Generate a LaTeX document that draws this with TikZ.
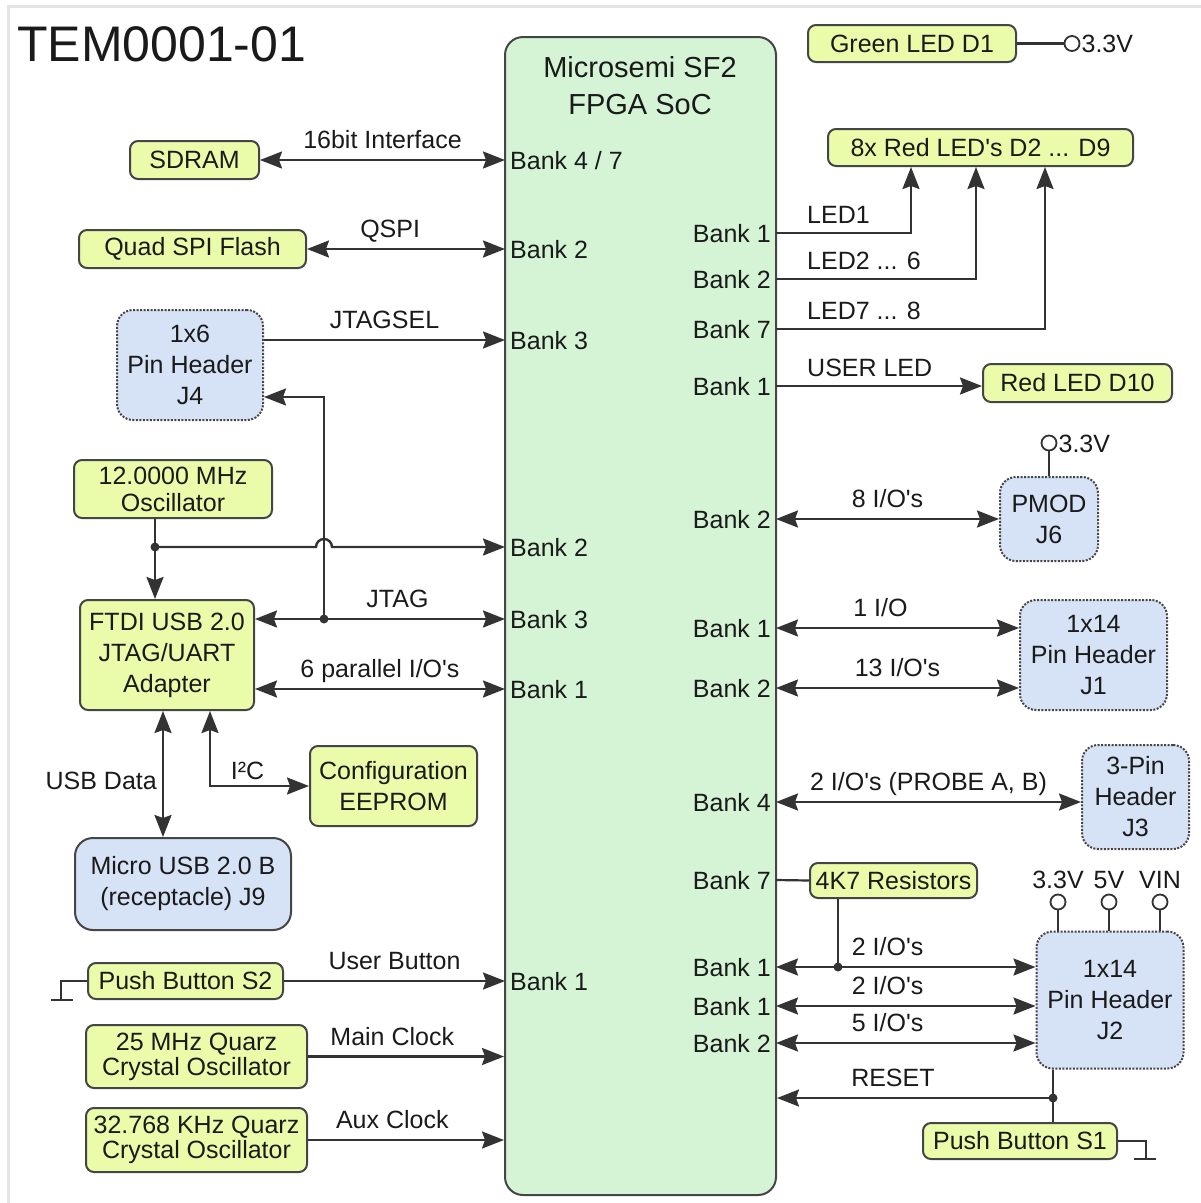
\documentclass[tikz,border=0pt]{standalone}
\usepackage{fontspec}
\setmainfont{Liberation Sans}
\usetikzlibrary{arrows.meta,positioning,calc}
\definecolor{partyellow}{HTML}{EAFBAA}
\definecolor{socgreen}{HTML}{D5F4D5}
\definecolor{headerblue}{HTML}{D6E2F5}
\definecolor{edgegray}{HTML}{454545}
\definecolor{wiregray}{HTML}{333333}
\definecolor{framegray}{HTML}{E4E4E4}
\definecolor{textblack}{HTML}{1A1A1A}
\newcommand{\apos}{\textquotesingle}
\tikzset{
  part/.style={
    rectangle,
    rounded corners=8pt,
    draw=edgegray,
    line width=2pt,
    fill=partyellow,
    align=center,
    inner sep=0pt
  },
  header/.style={
    rectangle,
    rounded corners=16pt,
    draw=edgegray,
    line width=2pt,
    dash pattern=on 2pt off 1.5pt,
    fill=headerblue,
    align=center,
    inner sep=0pt
  },
  socket/.style={
    rectangle,
    rounded corners=18pt,
    draw=edgegray,
    line width=2pt,
    fill=headerblue,
    align=center,
    inner sep=0pt
  },
  soc/.style={
    rectangle,
    rounded corners=18pt,
    draw=edgegray,
    line width=2pt,
    fill=socgreen,
    inner sep=0pt
  },
  lab/.style={inner sep=0pt,text height=18pt,text depth=0pt},
  over/.style={lab,above=10pt},
  bank/.style={lab,inner xsep=5pt},
  dot/.style={circle,fill=wiregray,inner sep=0pt,minimum size=9pt},
  term/.style={circle,draw=wiregray,line width=1.8pt,fill=white,inner sep=0pt,minimum size=15pt},
  wire/.style={line width=2.2pt,draw=wiregray},
  arrow/.style={-{Stealth[length=22pt,width=17pt,inset=3pt]},line width=2.4pt,draw=wiregray},
  biarrow/.style={arrow,{Stealth[length=22pt,width=17pt,inset=3pt]}-{Stealth[length=22pt,width=17pt,inset=3pt]}}
}
\begin{document}
\begin{tikzpicture}[x=1pt,y=-1pt,font=\fontsize{25}{31}\selectfont,text=textblack]
    \useasboundingbox (0,0) rectangle (1201,1203);
    \draw[framegray,line width=3pt] (8,1203) -- (8,6.5) -- (1201,6.5);
    \node[anchor=west,inner sep=0pt,font=\fontsize{50}{50}\selectfont] (title) at (17,44) {TEM0001-01};

    % FPGA and its banks
    \node[soc,minimum width=271pt,minimum height=1158pt] (fpga) at (640.5,616) {};
    \node[anchor=north,inner sep=0pt,align=center,font=\fontsize{29}{37}\selectfont] (soctitle) at (640,56) {Microsemi SF2\\FPGA SoC};

    \node[bank,anchor=west] (bl1) at (505,160) {Bank 4 / 7};
    \node[bank,anchor=west] (bl2) at (505,249) {Bank 2};
    \node[bank,anchor=west] (bl3) at (505,340) {Bank 3};
    \node[bank,anchor=west] (bl4) at (505,547) {Bank 2};
    \node[bank,anchor=west] (bl5) at (505,619) {Bank 3};
    \node[bank,anchor=west] (bl6) at (505,689) {Bank 1};
    \node[bank,anchor=west] (bl7) at (505,981) {Bank 1};

    \node[bank,anchor=east] (br1) at (776,233) {Bank 1};
    \node[bank,anchor=east] (br2) at (776,279) {Bank 2};
    \node[bank,anchor=east] (br3) at (776,329) {Bank 7};
    \node[bank,anchor=east] (br4) at (776,386) {Bank 1};
    \node[bank,anchor=east] (br5) at (776,519) {Bank 2};
    \node[bank,anchor=east] (br6) at (776,628) {Bank 1};
    \node[bank,anchor=east] (br7) at (776,688) {Bank 2};
    \node[bank,anchor=east] (br8) at (776,802) {Bank 4};
    \node[bank,anchor=east] (br9) at (776,880) {Bank 7};
    \node[bank,anchor=east] (br10) at (776,967) {Bank 1};
    \node[bank,anchor=east] (br11) at (776,1006) {Bank 1};
    \node[bank,anchor=east] (br12) at (776,1043) {Bank 2};

    % left side
    \node[part,minimum width=129pt,minimum height=38pt] (sdram) at (194.5,160) {SDRAM};
    \node[part,minimum width=227pt,minimum height=38pt] (qspi) at (192.5,249) {Quad SPI Flash};
    \node[header,minimum width=146pt,minimum height=110pt] (j4) at (190,365) {1x6\\Pin Header\\J4};
    \node[part,minimum width=198pt,minimum height=58pt,font=\fontsize{25}{27}\selectfont] (osc) at (173,489) {12.0000 MHz\\Oscillator};
    \node[part,minimum width=174pt,minimum height=110pt] (ftdi) at (167,655) {FTDI USB 2.0\\JTAG/UART\\Adapter};
    \node[part,minimum width=167pt,minimum height=80pt] (eeprom) at (393.5,786) {Configuration\\EEPROM};
    \node[socket,minimum width=216pt,minimum height=92pt] (usb) at (183,884) {Micro USB 2.0 B\\(receptacle) J9};
    \node[part,minimum width=195pt,minimum height=36pt] (s2) at (185.5,981) {Push Button S2};
    \node[part,minimum width=221pt,minimum height=63pt,font=\fontsize{25}{25}\selectfont] (q25) at (196.5,1056.5) {25 MHz Quarz\\Crystal Oscillator};
    \node[part,minimum width=221pt,minimum height=64pt,font=\fontsize{25}{25}\selectfont] (q32) at (196.5,1140) {32.768 KHz Quarz\\Crystal Oscillator};

    % right side
    \node[part,minimum width=208pt,minimum height=37pt] (d1) at (912,43.5) {Green LED D1};
    \node[part,minimum width=305pt,minimum height=37pt] (leds) at (980.5,147.5) {8x Red LED\apos s D2 ... D9};
    \node[part,minimum width=189pt,minimum height=38pt] (d10) at (1077.5,383) {Red LED D10};
    \node[header,minimum width=98pt,minimum height=84pt] (pmod) at (1049,519) {PMOD\\J6};
    \node[header,minimum width=147pt,minimum height=110pt] (j1) at (1093.5,655) {1x14\\Pin Header\\J1};
    \node[header,minimum width=107pt,minimum height=104pt] (j3) at (1135.5,797) {3-Pin\\Header\\J3};
    \node[part,minimum width=167pt,minimum height=35pt] (res) at (893.5,880.5) {4K7 Resistors};
    \node[header,minimum width=147pt,minimum height=137pt] (j2) at (1110,1000) {1x14\\Pin Header\\J2};
    \node[part,minimum width=194pt,minimum height=36pt] (s1) at (1020,1141) {Push Button S1};

    % supply terminals
    \node[term] (vd1) at (1072,43.5) {};
    \node[lab,anchor=west] (vd1lab) at ([xshift=1pt]vd1.east) {3.3V};
    \node[term] (vpmod) at (1049,443) {};
    \node[lab,anchor=west] (vpmodlab) at ([xshift=1pt]vpmod.east) {3.3V};
    \node[term] (vj2a) at (1058,902) {};
    \node[term] (vj2b) at (1109,902) {};
    \node[term] (vj2c) at (1160,902) {};
    \node[lab,above=5pt of vj2a] (vj2alab) {3.3V};
    \node[lab,above=5pt of vj2b] (vj2blab) {5V};
    \node[lab,above=5pt of vj2c] (vj2clab) {VIN};

    % junctions
    \node[dot] (clktap) at (155,547) {};
    \node[dot] (jtagtap) at (324,619) {};
    \node[dot] (pullup) at (838,967) {};
    \node[dot] (rsttap) at (1053,1098) {};

    % left connections
    \draw[biarrow] (sdram.east) -- (bl1.west) node[over,midway] {16bit Interface};
    \draw[biarrow] (qspi.east) -- (bl2.west) node[over,pos=0.42] {QSPI};
    \draw[arrow] (j4.east |- bl3.west) -- (bl3.west) node[over,midway] {JTAGSEL};
    \draw[wire] (osc.south -| clktap) -- (clktap.center);
    \draw[arrow] (clktap.center) -- (clktap.center |- ftdi.north);
    \draw[arrow] (clktap.center) -- ($(jtagtap |- bl4.west)+(-8,0)$) arc[start angle=180,end angle=0,radius=8pt] -- (bl4.west);
    \draw[biarrow] (ftdi.east |- bl5.west) -- (bl5.west) node[over,pos=0.57] {JTAG};
    \draw[arrow] (jtagtap.center) |- ([yshift=-32pt]j4.east);
    \draw[biarrow] (ftdi.east |- bl6.west) -- (bl6.west) node[over,midway] {6 parallel I/O\apos s};
    \draw[biarrow] ([xshift=-4pt]ftdi.south) -- ([xshift=-4pt]ftdi.south |- usb.north) node[lab,pos=0.55,anchor=east,xshift=-5pt] {USB Data};
    \draw[biarrow] ([xshift=43pt]ftdi.south) |- (eeprom.west) node[lab,pos=0.69,above=5pt] {I²C};
    \draw[arrow] (s2.east) -- (bl7.west) node[over,midway] {User Button};
    \draw[arrow] (q25.east) -- (q25.east -| fpga.west) node[over,pos=0.43] {Main Clock};
    \draw[arrow] (q32.east) -- (q32.east -| fpga.west) node[over,pos=0.43] {Aux Clock};
    \draw[wire] (s2.west) -- ++(-26,0) -- ++(0,19) ++(-10,0) -- ++(22,0);

    % right connections
    \draw[wire] (d1.east) -- (vd1.west);
    \draw[arrow] (br1.east) -| ([xshift=-69.5pt]leds.south) node[lab,at start,anchor=south west,xshift=30pt,yshift=8pt] {LED1};
    \draw[arrow] (br2.east) -| ([xshift=-4.5pt]leds.south) node[lab,at start,anchor=south west,xshift=30pt,yshift=8pt] {LED2 ... 6};
    \draw[arrow] (br3.east) -| ([xshift=64.5pt]leds.south) node[lab,at start,anchor=south west,xshift=30pt,yshift=8pt] {LED7 ... 8};
    \draw[arrow] (br4.east) -- (br4.east -| d10.west) node[lab,at start,anchor=south west,xshift=30pt,yshift=8pt] {USER LED};
    \draw[wire] (vpmod.south) -- (pmod.north);
    \draw[biarrow] (br5.east) -- (pmod.west) node[over,midway] {8 I/O\apos s};
    \draw[biarrow] (br6.east) -- (br6.east -| j1.west) node[over,pos=0.43] {1 I/O};
    \draw[biarrow] (br7.east) -- (br7.east -| j1.west) node[over,pos=0.5] {13 I/O\apos s};
    \draw[biarrow] (br8.east) -- (br8.east -| j3.west) node[over,midway] {2 I/O\apos s (PROBE A, B)};
    \draw[wire] (br9.east) -- (res.west);
    \draw[wire] (res.south -| pullup) -- (pullup.center);
    \draw[wire] (vj2a.south) -- (vj2a.south |- j2.north);
    \draw[wire] (vj2b.south) -- (vj2b.south |- j2.north);
    \draw[wire] (vj2c.south) -- (vj2c.south |- j2.north);
    \draw[biarrow] (br10.east) -- (br10.east -| j2.west) node[over,pos=0.43] {2 I/O\apos s};
    \draw[biarrow] (br11.east) -- (br11.east -| j2.west) node[over,pos=0.43] {2 I/O\apos s};
    \draw[biarrow] (br12.east) -- (br12.east -| j2.west) node[over,pos=0.43] {5 I/O\apos s};
    \draw[arrow] (rsttap.center) -- (rsttap.center -| fpga.east) node[over,pos=0.58] {RESET};
    \draw[wire] (j2.south -| rsttap) -- (s1.north -| rsttap);
    \draw[wire] (s1.east) -- ++(28,0) -- ++(0,18) ++(-12,0) -- ++(22,0);
  \end{tikzpicture}
\end{document}
